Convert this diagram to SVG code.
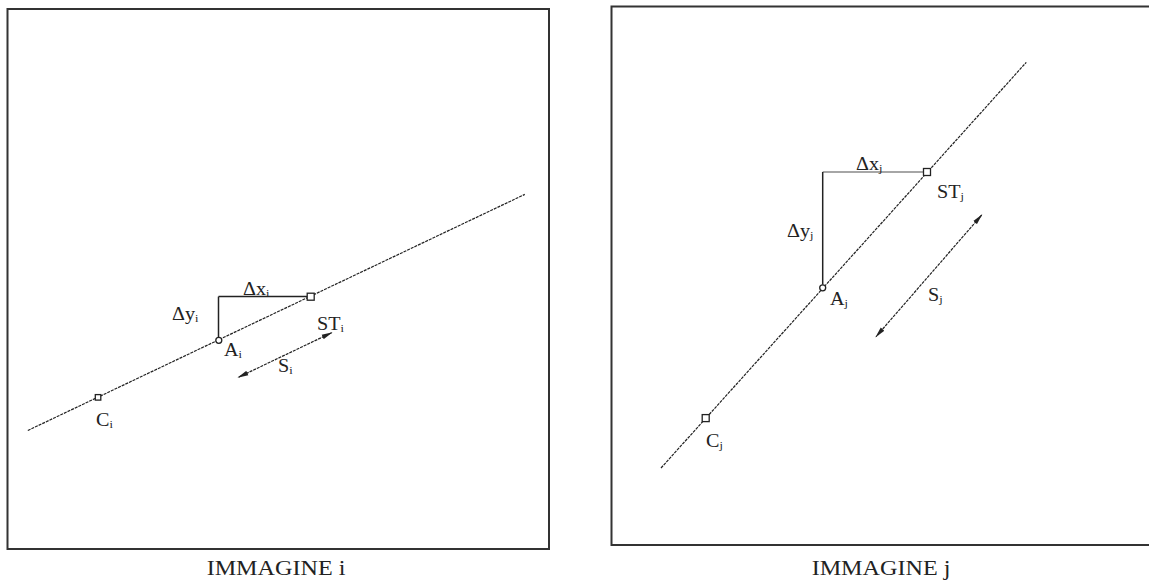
<svg xmlns="http://www.w3.org/2000/svg" width="1149" height="582" viewBox="0 0 1149 582">
<defs>
<style>
.frame{fill:none;stroke:#333;stroke-width:2}
.road{fill:none;stroke:#222;stroke-width:1.2;stroke-dasharray:3 1}
.leg{fill:none;stroke:#222;stroke-width:1.5}
.legl{fill:none;stroke:#888;stroke-width:1.5}
.sarrow{fill:none;stroke:#222;stroke-width:1.2;stroke-dasharray:3 1;marker-start:url(#ah);marker-end:url(#ah)}
.pt{fill:#fff;stroke:#222;stroke-width:1.3}
.lbl{font-family:"Liberation Serif","Times New Roman",serif;font-size:18px;fill:#222}
.sub{font-size:11px}
.cap{font-family:"Liberation Serif","Times New Roman",serif;font-size:21px;fill:#222;text-anchor:middle}
</style>
<marker id="ah" viewBox="0 0 11 6" refX="10" refY="3" markerWidth="11" markerHeight="6" markerUnits="userSpaceOnUse" orient="auto-start-reverse">
<path d="M0,0.6 L11,3 L0,5.4 z" fill="#222"/>
</marker>
</defs>
<rect width="1149" height="582" fill="#fff"/>

<g id="frame-i"><rect class="frame" x="7.5" y="9" width="541.5" height="540"/></g>
<g id="frame-j"><rect class="frame" x="611.5" y="6.5" width="545" height="538.5"/></g>

<g id="connectors">
<line class="road" x1="27.8" y1="430.5" x2="524.8" y2="194.4"/>
<line class="leg" x1="218.5" y1="296.6" x2="307" y2="296.6"/>
<line class="leg" x1="218.5" y1="296.6" x2="218.5" y2="337.5"/>
<line class="sarrow" x1="331.7" y1="332.7" x2="238.3" y2="377.3"/>

<line class="road" x1="661" y1="468" x2="1026.3" y2="62.3"/>
<line class="legl" x1="822.7" y1="172" x2="923.5" y2="172"/>
<line class="leg" x1="822.7" y1="172" x2="822.7" y2="284.7"/>
<line class="sarrow" x1="981.7" y1="215" x2="876" y2="336.7"/>
</g>

<g id="node-STi"><rect class="pt" x="307.2" y="293.2" width="7" height="7"/></g>
<g id="node-Ai"><circle class="pt" cx="218.8" cy="340.3" r="3"/></g>
<g id="node-Ci"><rect class="pt" x="95.3" y="394.6" width="5.5" height="5.5"/></g>
<g id="node-STj"><rect class="pt" x="923.5" y="168.5" width="7" height="7"/></g>
<g id="node-Aj"><circle class="pt" cx="822.7" cy="287.8" r="3"/></g>
<g id="node-Cj"><rect class="pt" x="702.2" y="414.6" width="7" height="7"/></g>

<g id="labels-i">
<text class="lbl" transform="translate(243,295) scale(1.12,1)">Δx<tspan class="sub" dy="2">i</tspan></text>
<text class="lbl" transform="translate(172,320) scale(1.12,1)">Δy<tspan class="sub" dy="2">i</tspan></text>
<text class="lbl" transform="translate(317,330) scale(1.12,1)">ST<tspan class="sub" dy="2">i</tspan></text>
<text class="lbl" transform="translate(224,356) scale(1.12,1)">A<tspan class="sub" dy="2">i</tspan></text>
<text class="lbl" transform="translate(278,372) scale(1.12,1)">S<tspan class="sub" dy="2">i</tspan></text>
<text class="lbl" transform="translate(96,426) scale(1.12,1)">C<tspan class="sub" dy="2">i</tspan></text>
</g>
<g id="labels-j">
<text class="lbl" transform="translate(856,170) scale(1.12,1)">Δx<tspan class="sub" dy="2">j</tspan></text>
<text class="lbl" transform="translate(787,237) scale(1.12,1)">Δy<tspan class="sub" dy="2">j</tspan></text>
<text class="lbl" transform="translate(937,198) scale(1.12,1)">ST<tspan class="sub" dy="2">j</tspan></text>
<text class="lbl" transform="translate(830,305) scale(1.12,1)">A<tspan class="sub" dy="2">j</tspan></text>
<text class="lbl" transform="translate(928,301) scale(1.12,1)">S<tspan class="sub" dy="2">j</tspan></text>
<text class="lbl" transform="translate(706,447) scale(1.12,1)">C<tspan class="sub" dy="2">j</tspan></text>
</g>

<g id="captions">
<text class="cap" transform="translate(276,575) scale(1.15,1)">IMMAGINE i</text>
<text class="cap" transform="translate(881,575) scale(1.15,1)">IMMAGINE j</text>
</g>
</svg>
